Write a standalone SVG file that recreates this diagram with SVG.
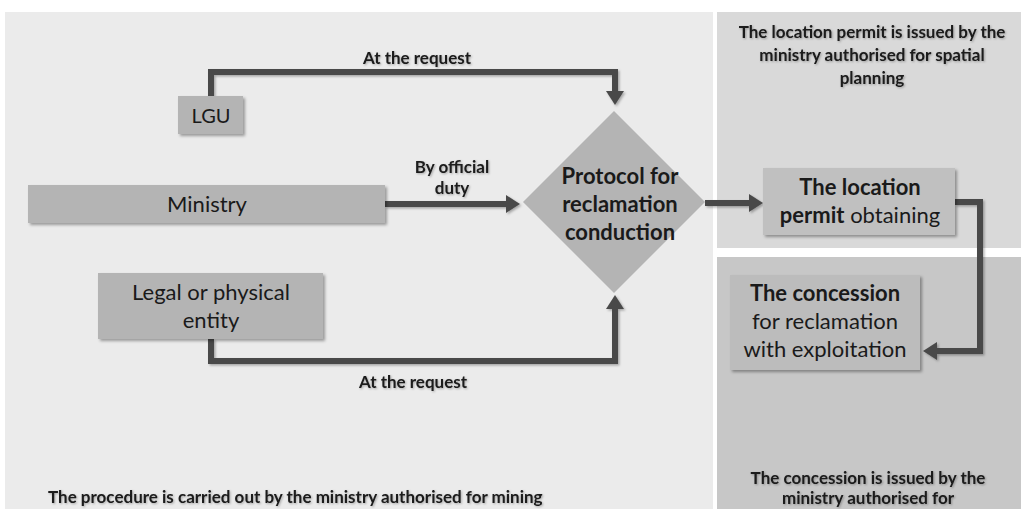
<svg xmlns="http://www.w3.org/2000/svg" width="1021" height="509" viewBox="0 0 1021 509">
<defs>
<filter id="sh" x="-10%" y="-10%" width="130%" height="140%"><feDropShadow dx="2" dy="2" stdDeviation="1.5" flood-color="#000" flood-opacity="0.35"/></filter>
<filter id="csh" filterUnits="userSpaceOnUse" x="0" y="0" width="1021" height="509"><feDropShadow dx="1.5" dy="1.5" stdDeviation="1.2" flood-color="#000" flood-opacity="0.3"/></filter>
<filter id="tsh" filterUnits="userSpaceOnUse" x="0" y="0" width="1021" height="509"><feDropShadow dx="1" dy="1" stdDeviation="1" flood-color="#000" flood-opacity="0.3"/></filter>
<marker id="ah" viewBox="0 0 14 18" refX="0" refY="9" markerWidth="14" markerHeight="18" markerUnits="userSpaceOnUse" orient="auto"><path d="M0,0 L14,9 L0,18 z" fill="#4a4a4a"/></marker>
</defs>
<style>
.t{font-family:Lato,"Liberation Sans",sans-serif;fill:#1a1a1a;text-anchor:middle}
.b{font-weight:bold}
.lab{font-size:17px;font-weight:bold;filter:url(#tsh)}
.big{font-size:22px}
.box{fill:#b4b4b4;filter:url(#sh)}
.c{fill:none;stroke:#4a4a4a;stroke-width:6;marker-end:url(#ah)}
</style>
<rect width="1021" height="509" fill="#ffffff"/>
<rect x="5" y="12" width="708" height="497" fill="#ebebeb"/>
<rect x="717" y="12" width="304" height="236" fill="#d9d9d9"/>
<rect x="717" y="257" width="304" height="252" fill="#c7c7c7"/>

<g id="connectors" filter="url(#csh)">
<path class="c" d="M211,96 V72 H615 V91"/>
<path class="c" d="M385,204 H506"/>
<path class="c" d="M211,339 V361 H615 V309"/>
<path class="c" d="M705,203 H749"/>
<path class="c" d="M955,202 H980 V351 H937"/>
</g>

<g id="labels">
<text class="t lab" x="417" y="64">At the request</text>
<text class="t lab" x="452" y="173">By official</text>
<text class="t lab" x="452" y="194">duty</text>
<text class="t lab" x="413" y="388">At the request</text>
</g>

<g id="lgu">
<rect class="box" x="178" y="96" width="65" height="38"/>
<text class="t" style="font-size:20px" x="211" y="123">LGU</text>
</g>
<g id="ministry">
<rect class="box" x="28" y="185" width="357" height="38"/>
<text class="t big" x="207" y="212">Ministry</text>
</g>
<g id="legal">
<rect class="box" x="98" y="273" width="225" height="66"/>
<text class="t big" x="211" y="300">Legal or physical</text>
<text class="t big" x="211" y="328">entity</text>
</g>
<g id="protocol">
<polygon points="614,111 705,202 614,293 523,202" fill="#b4b4b4"/>
<text class="t big b" x="620" y="184">Protocol for</text>
<text class="t big b" x="620" y="212">reclamation</text>
<text class="t big b" x="620" y="240">conduction</text>
</g>
<g id="location">
<rect x="763" y="168" width="192" height="67" fill="#c0c0c0" filter="url(#sh)"/>
<text class="t big" x="860" y="195"><tspan class="b">The location</tspan></text>
<text class="t big" x="860" y="223"><tspan class="b">permit</tspan> obtaining</text>
</g>
<g id="concession">
<rect x="730" y="275" width="190" height="95" fill="#bcbcbc" filter="url(#sh)"/>
<text class="t big b" x="825" y="301">The concession</text>
<text class="t big" x="825" y="329">for reclamation</text>
<text class="t big" x="825" y="357">with exploitation</text>
</g>
<g id="notes">
<text class="t lab" x="872" y="38">The location permit is issued by the</text>
<text class="t lab" x="872" y="61">ministry authorised for spatial</text>
<text class="t lab" x="872" y="84">planning</text>
<text class="t lab" x="868" y="484">The concession is issued by the</text>
<text class="t lab" x="868" y="504">ministry authorised for</text>
<text class="t lab" x="48" y="503" style="text-anchor:start">The procedure is carried out by the ministry authorised for mining</text>
</g>
</svg>
